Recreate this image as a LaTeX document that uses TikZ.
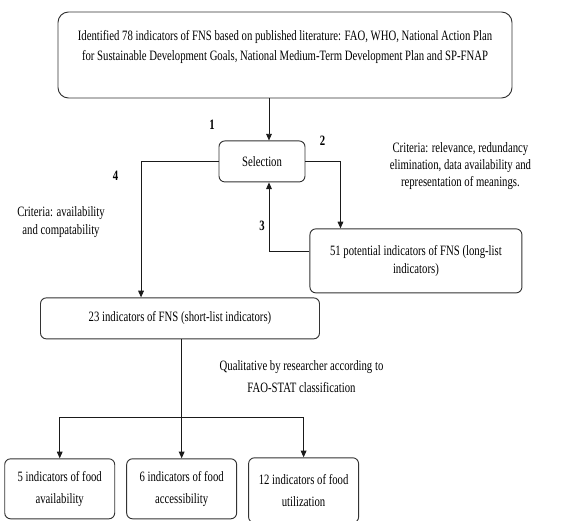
\documentclass[tikz,border=0pt]{standalone}
\usepackage{fontspec}
\setmainfont{Liberation Serif}[FakeStretch=0.75]
\usetikzlibrary{arrows.meta,positioning}
\definecolor{Ink}{HTML}{1A1A1A}
\definecolor{Frame}{HTML}{333333}

\begin{document}
\begin{tikzpicture}[every node/.style={font=\fontsize{12.2}{15.3}\selectfont},
  box/.style={draw=Frame, line width=0.8pt, rounded corners=5pt, align=center, inner sep=2pt},
  num/.style={font=\fontsize{12.2}{15.3}\selectfont\bfseries},
  note/.style={align=center},
  flow/.style={-{Triangle[length=2mm, width=1.7mm]}, line width=0.8pt, color=Ink}]
\useasboundingbox (-8.55,1.65) rectangle (8.4,-13.98);
\node[box, rounded corners=9pt, minimum width=13.62cm, minimum height=2.58cm, font=\fontsize{12.2}{17}\selectfont] (lit) at (0,0) {Identified 78 indicators of FNS based on published literature: FAO, WHO, National Action Plan\\for Sustainable Development Goals, National Medium-Term Development Plan and SP-FNAP\\ \mbox{}};
\node[box, minimum width=2.58cm, minimum height=1.23cm, below=1.26cm of lit, xshift=-0.69cm] (sel) {Selection};
\node[box, minimum width=6.36cm, minimum height=1.92cm, below right=1.38cm and 0.12cm of sel] (long) {51 potential indicators of FNS (long-list\\indicators)};
\node[box, minimum width=8.37cm, minimum height=1.23cm, below=3.45cm of sel, xshift=-2.46cm] (short) {23 indicators of FNS (short-list indicators)};
\node[box, minimum width=3.3cm, minimum height=1.8cm, below=3.57cm of short, xshift=0.05cm, font=\fontsize{12.2}{18.7}\selectfont] (access) {6 indicators of food\\accessibility};
\node[box, minimum width=3.3cm, minimum height=1.8cm, left=0.33cm of access, font=\fontsize{12.2}{18.7}\selectfont] (avail) {5 indicators of food\\availability};
\node[box, minimum width=3.3cm, minimum height=1.95cm, right=0.33cm of access, yshift=-0.045cm, font=\fontsize{12.2}{18.7}\selectfont] (util) {12 indicators of food\\utilization};
\node[num] (n1) at ([xshift=-1.5cm, yshift=0.48cm]sel.north) {1};
\node[num] (n2) at ([xshift=0.51cm]sel.north east) {2};
\node[num] (n3) at ([yshift=-1.29cm]sel.south) {3};
\node[num] (n4) at ([xshift=-3.09cm, yshift=-0.42cm]sel.west) {4};
\node[note, font=\fontsize{12.2}{14.5}\selectfont] (critA) at ([xshift=-1.86cm, yshift=1.86cm]long.north east) {Criteria: relevance, redundancy\\elimination, data availability and\\representation of meanings.};
\node[note] (critB) at ([xshift=0.63cm, yshift=2.25cm]short.north west) {Criteria: availability\\and compatability};
\node[note, font=\fontsize{12.2}{18.7}\selectfont] (qual) at ([xshift=3.645cm, yshift=-1.11cm]short.south) {Qualitative by researcher according to\\FAO-STAT classification};
\coordinate (selin) at ([xshift=0.21cm]sel.north);
\coordinate (selout) at ([xshift=0.21cm]sel.south);
\coordinate (fork) at ([yshift=1.23cm]access.north);
\draw[flow] (selin |- lit.south) -- (selin);
\draw[flow] (sel.east) -| ([xshift=0.93cm]long.north west);
\draw[flow] ([yshift=0.27cm]long.west) -| (selout);
\draw[flow] (sel.west) -| ([xshift=3.03cm]short.north west);
\draw[flow] (access.north |- short.south) -- (access.north);
\draw[flow] (fork) -| (avail.north);
\draw[flow] (fork) -| (util.north);
\end{tikzpicture}
\end{document}
